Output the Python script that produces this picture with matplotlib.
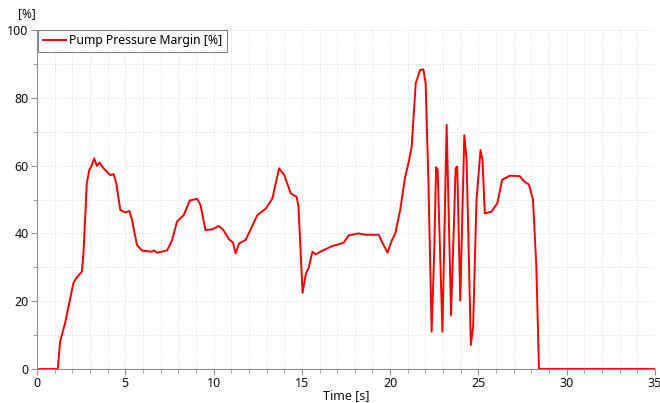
import matplotlib
matplotlib.use("Agg")
import matplotlib.pyplot as plt
from matplotlib.ticker import MultipleLocator

plt.rcParams['font.family'] = ['Noto Sans', 'DejaVu Sans']

time_s = [0.0, 1.18, 1.31, 1.59, 2.06, 2.25, 2.54, 2.63, 2.82, 2.96, 3.07, 3.24, 3.39, 3.54,
          3.77, 4.15, 4.34, 4.49, 4.72, 5.0, 5.23, 5.38, 5.66, 5.95, 6.52, 6.61, 6.8, 7.37,
          7.65, 7.93, 8.31, 8.65, 9.07, 9.26, 9.54, 9.92, 10.3, 10.55, 10.87, 11.1, 11.25,
          11.44, 11.82, 12.48, 12.96, 13.33, 13.71, 14.0, 14.37, 14.7, 14.81, 15.04, 15.23,
          15.38, 15.6, 15.79, 16.08, 16.74, 17.09, 17.37, 17.65, 18.22, 18.6, 19.35, 19.53,
          19.85, 20.1, 20.29, 20.57, 20.85, 21.08, 21.22, 21.45, 21.7, 21.88, 22.01, 22.17,
          22.35, 22.5, 22.6, 22.69, 22.96, 23.2, 23.45, 23.71, 23.8, 23.97, 24.2, 24.33,
          24.57, 24.7, 24.89, 25.12, 25.23, 25.36, 25.74, 26.07, 26.34, 26.77, 27.34, 27.58,
          27.86, 28.09, 28.28, 28.43, 35.0]
margin_pct = [0.0, 0.0, 8.1, 13.5, 25.3, 27.0, 28.7, 34.0, 54.8, 58.7, 59.7, 62.1, 59.9, 60.9,
              59.2, 57.2, 57.5, 54.8, 46.9, 46.2, 46.6, 44.0, 36.6, 34.9, 34.6, 35.0, 34.3, 35.0,
              38.0, 43.5, 45.4, 49.7, 50.2, 48.4, 41.0, 41.2, 42.2, 41.0, 38.3, 37.3, 34.1,
              37.0, 38.1, 45.4, 47.3, 50.3, 59.2, 57.2, 51.8, 50.8, 47.9, 22.5, 28.2,
              29.7, 34.6, 33.8, 34.7, 36.3, 36.8, 37.3, 39.4, 40.0, 39.6, 39.6, 37.6,
              34.3, 38.0, 40.0, 46.9, 56.7, 61.7, 65.6, 84.3, 88.2, 88.4, 84.3, 54.8,
              11.0, 35.1, 59.5, 58.8, 11.0, 72.0, 15.9, 59.2, 59.7, 20.2, 69.0, 61.7,
              7.1, 12.5, 49.9, 64.6, 61.7, 45.9, 46.4, 48.9, 55.8, 57.0, 56.9, 55.4,
              54.4, 49.9, 30.2, 0.0, 0.0]

series_label = "Pump Pressure Margin [%]"

fig = plt.figure(figsize=(6.6, 4.03), dpi=100)
ax = fig.add_axes([37/660, 1-369/403, (655-37)/660, (369-30)/403])

ax.plot(time_s, margin_pct, color="#ff0000", lw=1.4, label=series_label,
        solid_joinstyle="round")

ax.set_xlim(0, 35)
ax.set_ylim(0, 100)
ax.xaxis.set_major_locator(MultipleLocator(5))
ax.xaxis.set_minor_locator(MultipleLocator(1))
ax.yaxis.set_major_locator(MultipleLocator(20))
ax.yaxis.set_minor_locator(MultipleLocator(10))
ax.grid(which="both", color="#d8d8d8", linestyle=(0, (1, 2)), lw=0.7)
ax.set_axisbelow(True)

for s in ["top", "right"]:
    ax.spines[s].set_visible(False)
for s in ["left", "bottom"]:
    ax.spines[s].set_color("#909090")
ax.tick_params(which="both", direction="out", color="#909090", labelsize=9, labelcolor="#111111", pad=2)
ax.tick_params(which="major", length=4)
ax.tick_params(which="minor", length=3)

ax.set_xlabel("Time [s]", fontsize=9, labelpad=-1, color="#111111")
fig.text(27/660, 1-14/403, "[%]", fontsize=8.5, ha="center", va="center", color="#111111")

leg = ax.legend(loc="upper left", fontsize=8.8, frameon=True, fancybox=False,
                borderaxespad=0.0, handlelength=1.9, handletextpad=0.3,
                borderpad=0.35, bbox_to_anchor=(0.002, 1.0))
leg.get_frame().set_edgecolor("#666666")
leg.get_frame().set_linewidth(0.8)

fig.savefig("out.png", dpi=100)
